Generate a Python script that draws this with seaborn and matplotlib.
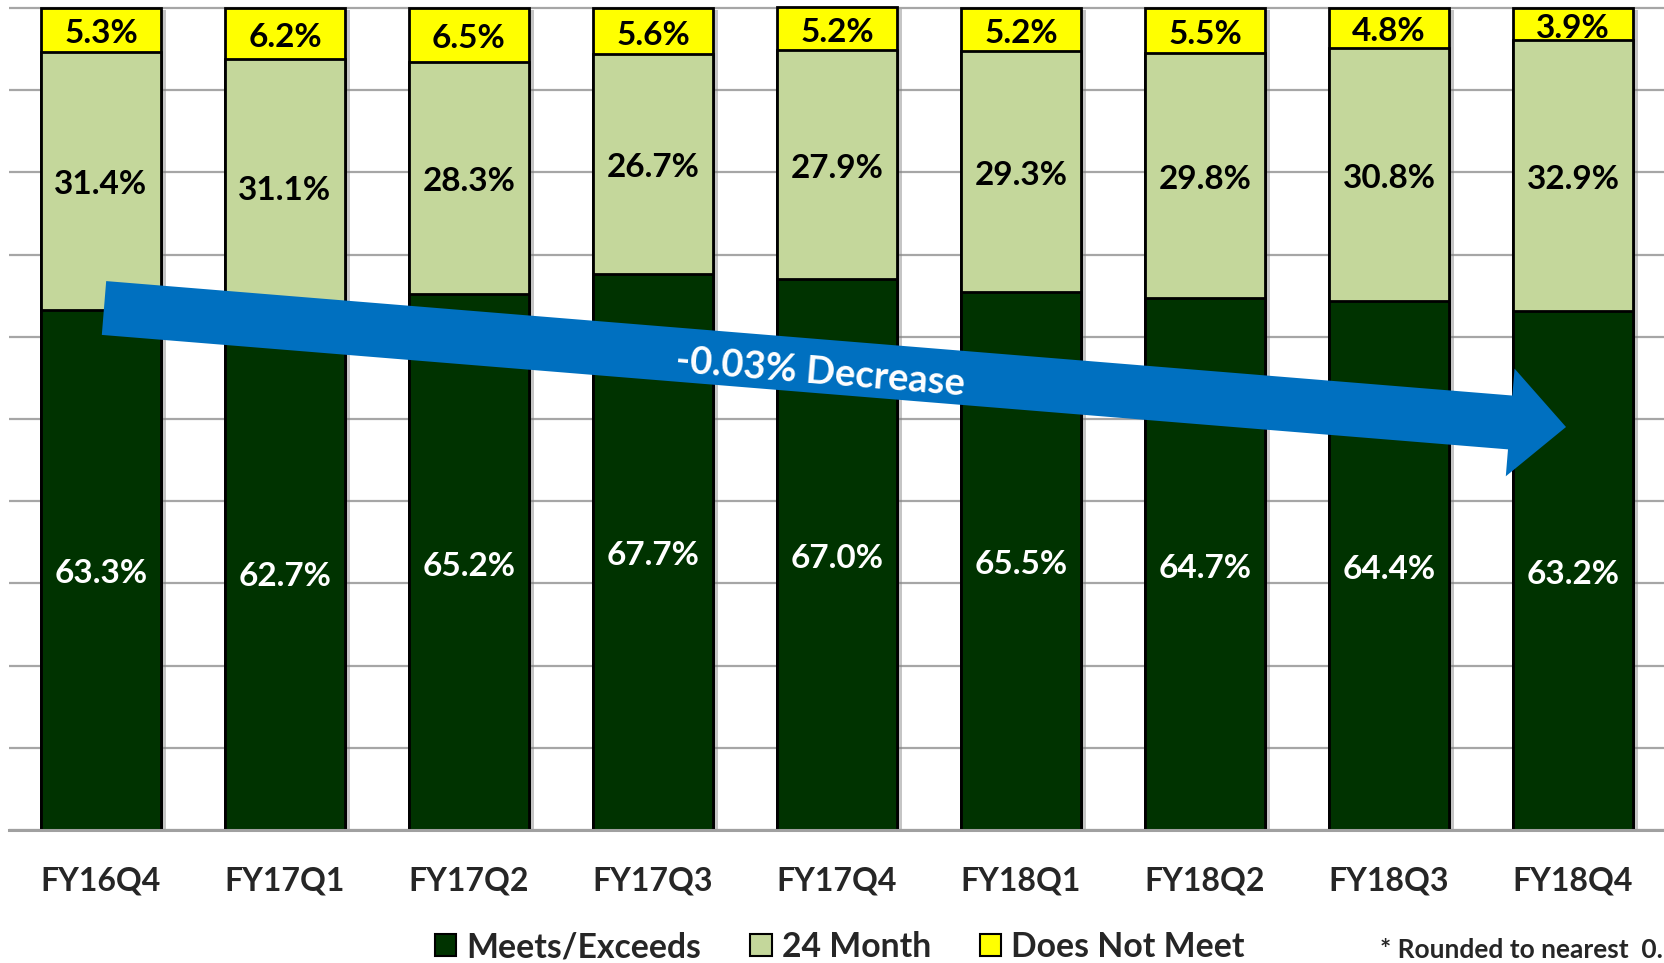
import matplotlib
matplotlib.use("Agg")
import matplotlib.pyplot as plt
import matplotlib.transforms as mtrans
import seaborn as sns
import numpy as np
import pandas as pd
from matplotlib.patches import Patch, Polygon
import matplotlib.patheffects as pe

quarters = ["FY16Q4", "FY17Q1", "FY17Q2", "FY17Q3", "FY17Q4",
            "FY18Q1", "FY18Q2", "FY18Q3", "FY18Q4"]
meets = [63.3, 62.7, 65.2, 67.7, 67.0, 65.5, 64.7, 64.4, 63.2]
month24 = [31.4, 31.1, 28.3, 26.7, 27.9, 29.3, 29.8, 30.8, 32.9]
not_meet = [5.3, 6.2, 6.5, 5.6, 5.2, 5.2, 5.5, 4.8, 3.9]
series_names = ["Meets/Exceeds", "24 Month", "Does Not Meet"]
arrow_label = "-0.03% Decrease"
note = "* Rounded to nearest  0.1%"

C_DARK = "#003300"
C_LIGHT = "#C4D79B"
C_YEL = "#FFFF00"

sns.set_style("white")
plt.rcParams["font.family"] = ["Lato", "DejaVu Sans"]
plt.rcParams["font.weight"] = "bold"

W, H = 1665, 963
fig = plt.figure(figsize=(W / 100, H / 100), dpi=100)
ax = fig.add_axes([9 / W, 133 / H, 1 - 9 / W, (830 - 4) / H])

df = pd.DataFrame({"q": quarters, "m": meets, "t": month24, "n": not_meet})
df["c1"] = df["m"]
df["c2"] = df["m"] + df["t"]
df["c3"] = df["m"] + df["t"] + df["n"]

shadow = [pe.SimplePatchShadow(offset=(3.5, -1.5), shadow_rgbFace="#808080", alpha=0.45), pe.Normal()]

for col, color, shade in [("c3", C_YEL, True), ("c2", C_LIGHT, False), ("c1", C_DARK, False)]:
    n_before = len(ax.patches)
    sns.barplot(data=df, x="q", y=col, color=color, width=0.655, edgecolor="black",
                linewidth=2.0, saturation=1, ax=ax, errorbar=None)
    if shade:
        for p in ax.patches[n_before:]:
            p.set_path_effects(shadow)

lab_tr = mtrans.offset_copy(ax.transData, fig=fig, x=0, y=-4, units="dots")
for i in range(len(quarters)):
    m, t, n = meets[i], month24[i], not_meet[i]
    ax.text(i, m / 2, f"{m:.1f}%", ha="center", va="center", color="white",
            fontsize=24, fontweight="bold", transform=lab_tr)
    ax.text(i, m + t / 2, f"{t:.1f}%", ha="center", va="center", color="black",
            fontsize=24, fontweight="bold", transform=lab_tr)
    ax.text(i, m + t + n / 2, f"{n:.1f}%", ha="center", va="center", color="black",
            fontsize=24, fontweight="bold", transform=lab_tr)

ax.set_xlim(-0.5, len(quarters) - 0.5)
ax.set_ylim(0, 100.5)
ax.set_yticks(np.arange(0, 101, 10))
ax.set_yticklabels([])
ax.yaxis.grid(True, color="#A6A6A6", lw=1.6)
ax.set_axisbelow(True)
ax.tick_params(axis="both", length=0)
ax.tick_params(axis="x", pad=26, labelsize=23)
for lab in ax.get_xticklabels():
    lab.set_fontweight("bold")
ax.set_xlabel("")
ax.set_ylabel("")
for s in ["left", "top", "right"]:
    ax.spines[s].set_visible(False)
ax.spines["bottom"].set_color("#A0A0A0")
ax.spines["bottom"].set_linewidth(2.2)

# Trend arrow (pixel geometry, y measured from the top)
T = np.array([104.0, 308.0])
P = np.array([1566.0, 427.0])
d = (P - T) / np.linalg.norm(P - T)
nrm = np.array([-d[1], d[0]])
B = P - d * 56
sw, hw = 27, 54
pts = [T - nrm * sw, B - nrm * sw, B - nrm * hw, P, B + nrm * hw, B + nrm * sw, T + nrm * sw]
pts = [(x / W, 1 - y / H) for x, y in pts]
fig.patches.append(Polygon(pts, closed=True, transform=fig.transFigure,
                           facecolor="#0070C0", edgecolor="none", zorder=5))
ang = np.degrees(np.arctan2(P[1] - T[1], P[0] - T[0]))
fig.text(820 / W, 1 - 373 / H, arrow_label, color="white", fontsize=27.5, fontweight="bold",
         ha="center", va="center", rotation=-ang, rotation_mode="anchor", zorder=6)

handles = [Patch(facecolor=c, edgecolor="black", linewidth=1.5) for c in (C_DARK, C_LIGHT, C_YEL)]
fig.legend(handles, series_names, loc="center", bbox_to_anchor=(840 / W, 1 - 947 / H),
           ncol=3, frameon=False, handlelength=0.63, handleheight=0.63,
           handletextpad=0.3, columnspacing=1.45, prop={"weight": "bold", "size": 24.3})

fig.text(1380 / W, 1 - 950 / H, note, fontsize=19, fontweight="bold", ha="left", va="center")

fig.savefig("out.png", dpi=100)
